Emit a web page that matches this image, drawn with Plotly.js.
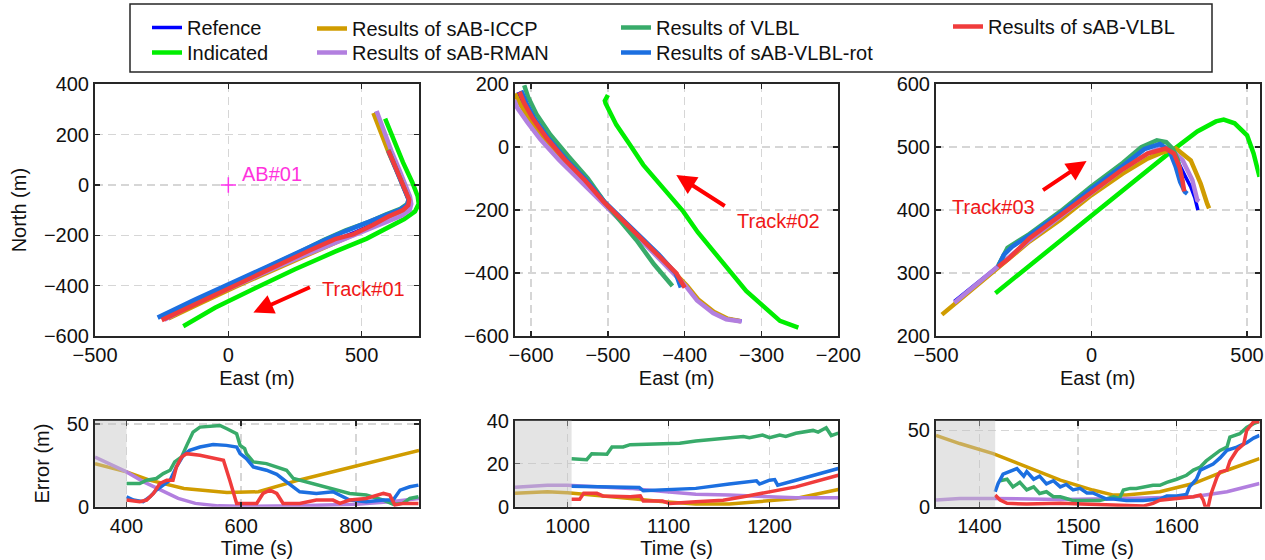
<!DOCTYPE html>
<html><head><meta charset="utf-8">
<script src="https://cdn.plot.ly/plotly-3.0.1.min.js"></script>
<style>html,body{margin:0;padding:0;background:#fff}#chart{width:1265px;height:560px}</style>
</head><body><div id="chart"></div>
<script>
// ---------- Track #01 (East, North in m) ----------
const t1RefE  = [553, 580, 610, 640, 665, 678, 680, 665, 630, 560, 480, 380, 270, 150, 20, -120, -250];
const t1RefN  = [290, 210, 130, 55, -10, -45, -70, -95, -115, -148, -185, -228, -280, -338, -400, -465, -530];
const t1IndE  = [588, 620, 655, 690, 710, 714, 700, 660, 600, 519, 400, 250, 100, -50, -169];
const t1IndN  = [264, 180, 90, 10, -45, -75, -105, -135, -170, -213, -265, -335, -410, -488, -561];
const t1IccpE = [544, 572, 603, 634, 660, 674, 678, 668, 635, 565, 485, 385, 275, 155, 25, -105, -225];
const t1IccpN = [286, 205, 125, 50, -15, -50, -75, -100, -120, -153, -190, -233, -285, -343, -405, -470, -530];
const t1RmanE = [556, 582, 612, 642, 667, 681, 686, 680, 650, 590, 490, 385, 272, 150, 18, -120, -240];
const t1RmanN = [294, 214, 134, 58, -8, -45, -75, -100, -122, -148, -192, -235, -285, -342, -403, -468, -535];
const t1VlblE = [600, 625, 650, 668, 676, 672, 645, 590, 520, 440, 360, 265, 150, 20, -120, -250];
const t1VlblN = [140, 75, 10, -30, -55, -75, -95, -118, -150, -180, -218, -268, -325, -390, -458, -522];
const t1RotE  = [600, 625, 650, 668, 676, 670, 640, 585, 515, 435, 355, 260, 145, 15, -125, -265];
const t1RotN  = [135, 70, 5, -35, -58, -80, -100, -122, -150, -185, -222, -270, -325, -388, -455, -527];
const t1RedE  = [600, 625, 650, 668, 678, 675, 655, 600, 540, 470, 400, 300, 180, 50, -100, -250];
const t1RedN  = [138, 72, 8, -32, -58, -80, -100, -125, -160, -195, -215, -262, -322, -385, -460, -537];

// ---------- Track #02 ----------
const t2RefE  = [-617, -612, -600, -582, -558, -532, -507, -484, -462, -438, -414, -398, -383, -362, -345, -326];
const t2RefN  = [175, 140, 92, 30, -40, -105, -172, -228, -280, -340, -400, -440, -485, -525, -545, -552];
const t2IndE  = [-500, -504, -503, -489, -472, -454, -428, -402, -383, -363, -320, -276, -252];
const t2IndN  = [166, 148, 139, 71, 10, -56, -130, -204, -270, -330, -457, -552, -573];
const t2IccpE = [-621, -615, -603, -585, -561, -534, -508, -485, -462, -438, -413, -397, -382, -361, -344, -327];
const t2IccpN = [171, 140, 92, 30, -40, -105, -172, -228, -280, -340, -400, -440, -485, -525, -545, -553];
const t2RmanE = [-622, -618, -605, -588, -564, -537, -510, -486, -463, -439, -415, -399, -384, -363, -346, -326];
const t2RmanN = [150, 125, 80, 25, -40, -105, -172, -228, -280, -340, -400, -440, -487, -527, -547, -554];
const t2VlblE = [-609, -604, -593, -575, -551, -526, -505, -483, -463, -440, -416];
const t2VlblN = [197, 160, 105, 40, -30, -100, -172, -235, -295, -372, -441];
const t2RotE  = [-613, -606, -596, -578, -554, -528, -505, -482, -459, -434, -412, -405];
const t2RotN  = [180, 140, 92, 30, -40, -105, -172, -228, -280, -340, -400, -446];
const t2RedE  = [-615, -609, -598, -580, -556, -530, -506, -483, -460, -435, -411, -400];
const t2RedN  = [176, 140, 92, 30, -40, -105, -172, -228, -280, -340, -400, -446];

// ---------- Track #03 ----------
const t3RefE  = [-441, -370, -303, -200, -100, 0, 100, 180, 230, 250, 280, 300, 319, 332, 342];
const t3RefN  = [255, 283, 310, 352, 390, 428, 465, 490, 500, 497, 475, 455, 437, 420, 400];
const t3IndE  = [-309, -150, 0, 150, 255, 340, 400, 425, 460, 500, 521, 540];
const t3IndN  = [268, 332, 392, 452, 493, 525, 541, 544, 538, 519, 490, 453];
const t3IccpE = [-481, -400, -303, -200, -100, 0, 100, 180, 230, 271, 319, 351, 372, 378];
const t3IccpN = [234, 268, 307, 350, 385, 424, 458, 482, 492, 498, 479, 442, 410, 403];
const t3RmanE = [-441, -370, -303, -200, -100, 0, 100, 180, 230, 260, 293, 324, 340, 346];
const t3RmanN = [253, 282, 310, 352, 390, 428, 465, 490, 500, 495, 479, 448, 416, 414];
const t3VlblE = [-300, -285, -270, -200, -100, 0, 100, 160, 210, 240, 262, 277, 287, 293];
const t3VlblN = [312, 328, 340, 362, 398, 438, 475, 500, 511, 508, 497, 480, 460, 443];
const t3RotE  = [-300, -282, -255, -200, -100, 0, 100, 170, 220, 250, 270, 285, 300, 308];
const t3RotN  = [310, 329, 342, 360, 395, 434, 470, 497, 505, 495, 470, 445, 429, 426];
const t3RedE  = [-300, -266, -200, -100, 0, 100, 180, 239, 265, 283, 293, 298];
const t3RedN  = [310, 323, 355, 392, 430, 465, 490, 498, 490, 468, 445, 430];

// ---------- Error, Track #01 (time s, error m) ----------
const e1IccpT = [345, 400, 440, 500, 575, 630, 700, 760, 820, 910];
const e1IccpV = [26, 21, 16, 11, 8.5, 9, 16, 21, 26, 34];
const e1RmanT = [345, 370, 400, 430, 460, 490, 520, 560, 600, 700, 800, 860, 910];
const e1RmanV = [30, 26, 21, 15, 10, 5, 2, 0.5, 0.3, 0.5, 1.5, 3, 5];
const e1VlblT = [400, 423, 435, 452, 464, 476, 484, 496, 505, 516, 528, 551, 563, 575, 586, 592, 598, 606, 609, 621, 644, 661, 679, 691, 714, 737, 760, 789, 818, 848, 865, 882, 894, 909];
const e1VlblV = [14, 14, 16, 17, 20, 22, 27, 30, 37, 45, 48, 49, 49, 47, 45, 44, 37, 35, 32, 27, 26, 24, 22, 17, 15, 13, 11, 8, 7, 4, 1.5, 2, 5, 6];
const e1RotT  = [400, 412, 429, 441, 452, 464, 476, 487, 499, 510, 528, 551, 574, 592, 598, 609, 621, 644, 662, 679, 691, 702, 731, 760, 789, 818, 848, 865, 877, 894, 909];
const e1RotV  = [6, 4, 3, 6, 10, 13, 16, 24, 31, 34, 36, 37.5, 37, 36, 32, 29, 24, 22, 19.5, 15, 12, 9, 8, 9, 4, 3, 4, 4, 10, 12, 13];
const e1RedT  = [400, 423, 435, 447, 458, 470, 481, 487, 496, 505, 528, 557, 569, 580, 586, 592, 609, 627, 638, 650, 662, 673, 702, 731, 760, 772, 789, 818, 848, 859, 868, 882, 909];
const e1RedV  = [4, 3, 4, 8, 14, 16, 16, 24, 30, 32, 31, 29, 28, 16, 8, 2, 2, 2, 8, 10, 8, 2, 2, 4, 4, 2, 4, 5, 8, 7, 1, 2, 2];

// ---------- Error, Track #02 ----------
const e2IccpT = [948, 980, 1000, 1029, 1062, 1095, 1127, 1160, 1193, 1226, 1268];
const e2IccpV = [6.2, 6.9, 6.5, 5.4, 3.8, 2.3, 1.2, 1.2, 2.3, 3.8, 8];
const e2RmanT = [948, 980, 1000, 1029, 1062, 1095, 1127, 1160, 1193, 1226, 1268];
const e2RmanV = [9, 10, 10, 9.2, 8.5, 7, 5.8, 5.4, 4.6, 4.1, 4.1];
const e2VlblT = [1004, 1019, 1024, 1039, 1044, 1055, 1062, 1094, 1111, 1127, 1144, 1160, 1174, 1180, 1193, 1200, 1210, 1216, 1226, 1243, 1248, 1256, 1261, 1268];
const e2VlblV = [22.3, 21.8, 24.6, 24.3, 27.7, 27.7, 28.8, 29.2, 29.5, 30.5, 31.4, 32, 32.6, 32, 33.2, 32, 33.2, 32.6, 34.1, 35.4, 34.6, 36.6, 33, 34.1];
const e2RotT  = [1004, 1029, 1071, 1075, 1094, 1127, 1160, 1187, 1190, 1200, 1205, 1208, 1226, 1268];
const e2RotV  = [9.5, 9.2, 8.9, 7.4, 7.7, 8.5, 10.5, 12, 10.5, 12.3, 12.6, 10, 12.3, 17.7];
const e2RedT  = [1004, 1012, 1016, 1029, 1035, 1062, 1072, 1075, 1094, 1101, 1127, 1154, 1174, 1193, 1226, 1268];
const e2RedV  = [3.4, 3.4, 6.2, 6.2, 5, 4.6, 5, 2.6, 2.6, 1.5, 2.3, 3, 4.6, 6.2, 9.2, 14.6];

// ---------- Error, Track #03 ----------
const e3IccpT = [1356, 1380, 1414, 1448, 1482, 1515, 1536, 1549, 1583, 1617, 1651, 1684];
const e3IccpV = [46.7, 41.4, 34.8, 26, 17.4, 10.9, 7.6, 7.6, 9.8, 15.2, 23.9, 31.5];
const e3RmanT = [1356, 1380, 1414, 1482, 1549, 1617, 1651, 1684];
const e3RmanV = [4.4, 5.4, 5.4, 4.8, 5.4, 6.5, 9.8, 15.2];
const e3VlblT = [1421, 1428, 1434, 1441, 1448, 1455, 1461, 1468, 1475, 1482, 1488, 1495, 1509, 1522, 1536, 1542, 1546, 1553, 1559, 1566, 1576, 1583, 1590, 1600, 1610, 1617, 1624, 1630, 1637, 1644, 1651, 1654, 1664, 1671, 1678, 1684];
const e3VlblV = [17, 18, 13, 16, 11, 13, 8.7, 9.8, 6.5, 6.5, 5.4, 4, 4, 4, 6.5, 5.4, 11, 12, 12, 13, 14, 14, 16, 18, 20.6, 24, 26, 30, 33.7, 36.9, 39, 45.6, 47.8, 52, 54.4, 56];
const e3RotT  = [1416, 1419, 1424, 1438, 1445, 1448, 1455, 1461, 1468, 1475, 1482, 1488, 1495, 1502, 1509, 1515, 1522, 1529, 1536, 1549, 1566, 1583, 1590, 1600, 1610, 1613, 1620, 1624, 1637, 1644, 1651, 1661, 1671, 1678, 1684];
const e3RotV  = [9.8, 15.2, 21.3, 25, 20, 23, 18, 20, 15, 17, 13, 14.6, 11, 12, 9, 9, 7, 5, 5, 4, 4, 5, 7, 7, 8, 13, 18, 24, 28, 32, 37, 39, 42, 45, 46.7];
const e3RedT  = [1416, 1421, 1428, 1448, 1482, 1515, 1549, 1566, 1576, 1583, 1600, 1617, 1624, 1627, 1629, 1632, 1635, 1641, 1644, 1651, 1654, 1661, 1668, 1671, 1678, 1684];
const e3RedV  = [7.6, 4.4, 2.2, 1.7, 2.2, 1.7, 1, 0.4, 2.2, 4.3, 5.4, 6.5, 7.6, 4.3, 0, 0, 8.7, 19.6, 22.8, 24, 30, 37, 41, 50, 55.6, 55.6];

// ---------- Labels, styles ----------
const methodNames = ['Refence', 'Indicated', 'Results of sAB-ICCP', 'Results of sAB-RMAN', 'Results of VLBL', 'Results of sAB-VLBL-rot', 'Results of sAB-VLBL'];
const methodColors = ['#0000ff', '#00ee00', '#d09c00', '#b27fdf', '#38ab6a', '#1c6fe0', '#f03c3c'];
const trackE = [
  [t1RefE, t1IndE, t1IccpE, t1RmanE, t1VlblE, t1RotE, t1RedE],
  [t2RefE, t2IndE, t2IccpE, t2RmanE, t2VlblE, t2RotE, t2RedE],
  [t3RefE, t3IndE, t3IccpE, t3RmanE, t3VlblE, t3RotE, t3RedE]];
const trackN = [
  [t1RefN, t1IndN, t1IccpN, t1RmanN, t1VlblN, t1RotN, t1RedN],
  [t2RefN, t2IndN, t2IccpN, t2RmanN, t2VlblN, t2RotN, t2RedN],
  [t3RefN, t3IndN, t3IccpN, t3RmanN, t3VlblN, t3RotN, t3RedN]];
// error series: method index 2..6
const errT = [
  [e1IccpT, e1RmanT, e1VlblT, e1RotT, e1RedT],
  [e2IccpT, e2RmanT, e2VlblT, e2RotT, e2RedT],
  [e3IccpT, e3RmanT, e3VlblT, e3RotT, e3RedT]];
const errV = [
  [e1IccpV, e1RmanV, e1VlblV, e1RotV, e1RedV],
  [e2IccpV, e2RmanV, e2VlblV, e2RotV, e2RedV],
  [e3IccpV, e3RmanV, e3VlblV, e3RotV, e3RedV]];
const shadeEnd = [400, 1004, 1416];

const topXRange = [[-500, 715], [-621, -200], [-500, 540]];
const topYRange = [[-600, 400], [-600, 200], [200, 600]];
const topXDtick = [500, 100, 500];
const topYDtick = [200, 200, 100];
const botXRange = [[345, 910], [948, 1268], [1356, 1684]];
const botYRange = [[0, 52], [0, 40], [0, 56.5]];
const botXDtick = [200, 100, 100];
const botYDtick = [50, 20, 50];

const abE = [0], abN = [0];
const trackLabels = ['Track#01', 'Track#02', 'Track#03'];
const trackLabelPos = [[506, -412], [-278, -235], [-314, 405]];
const arrowHead = [[94, -507], [-411, -88], [-16, 478]];
const arrowTail = [[58, -26], [50, 32], [-45, 30]];

// ---------- Build ----------
const W = 1265, H = 560;
const FONT = 'Liberation Sans, Arial, Helvetica, sans-serif';
const xDom = [[95 / W, 419 / W], [515 / W, 838.3 / W], [936 / W, 1259.5 / W]];
const topDom = [1 - 336 / H, 1 - 84.3 / H];
const botDom = [1 - 506.7 / H, 1 - 420.5 / H];

// one legend box per entry (text-left x, text-centre y, in px)
const legendPos = [[187, 28], [187, 53], [352, 29], [352, 53], [656, 28], [656, 53], [988, 27]];

const data = [];
const drawOrder = [1, 0, 2, 3, 4, 5, 6];
for (let k = 0; k < 3; k++) {
  drawOrder.forEach(m => {
    data.push({
      type: 'scatter', mode: 'lines',
      x: trackE[k][m], y: trackN[k][m],
      xaxis: 'x' + (k === 0 ? '' : k + 1), yaxis: 'y' + (k === 0 ? '' : k + 1),
      name: methodNames[m], legendgroup: methodNames[m],
      legend: m === 0 ? 'legend' : 'legend' + (m + 1),
      showlegend: k === 0,
      line: {color: methodColors[m], width: m === 0 ? 3.5 : 4.5},
      hoverinfo: 'skip'
    });
  });
}
data.push({type: 'scatter', mode: 'markers', x: abE, y: abN, xaxis: 'x', yaxis: 'y', showlegend: false,
  marker: {symbol: 'cross-thin', size: 11, line: {color: '#ff33ee', width: 1.5}}, hoverinfo: 'skip'});
for (let k = 0; k < 3; k++) {
  for (let j = 0; j < 5; j++) {
    const m = j + 2;
    data.push({
      type: 'scatter', mode: 'lines',
      x: errT[k][j], y: errV[k][j],
      xaxis: 'x' + (k + 4), yaxis: 'y' + (k + 4),
      name: methodNames[m], legendgroup: methodNames[m], legend: 'legend' + (m + 1),
      showlegend: false, line: {color: methodColors[m], width: 3.5}, hoverinfo: 'skip'
    });
  }
}

function axis(range, dtick, domain, anchor, title, standoff) {
  const a = {
    range: range, dtick: dtick, tick0: 0, domain: domain, anchor: anchor,
    showline: true, mirror: 'ticks', linecolor: '#262626', linewidth: 2,
    ticks: 'inside', ticklen: 5, tickwidth: 1.5, tickcolor: '#262626',
    showgrid: true, gridcolor: '#d6d6d6', gridwidth: 1.5, griddash: '8px,5px',
    zeroline: false, automargin: false,
    tickfont: {family: FONT, size: 20, color: '#111'}
  };
  if (title) a.title = {text: title, font: {family: FONT, size: 20, color: '#111'}, standoff: standoff};
  return a;
}

const layout = {
  width: W, height: H,
  margin: {l: 0, r: 0, t: 0, b: 0},
  paper_bgcolor: '#fff', plot_bgcolor: '#fff',
  font: {family: FONT, size: 20, color: '#111'},
  showlegend: true,
  shapes: [],
  annotations: []
};
for (let k = 0; k < 3; k++) {
  const s = k === 0 ? '' : String(k + 1);
  layout['xaxis' + s] = axis(topXRange[k], topXDtick[k], xDom[k], 'y' + s, 'East (m)', 6);
  layout['yaxis' + s] = axis(topYRange[k], topYDtick[k], topDom, 'x' + s, k === 0 ? 'North (m)' : null, 12);
  layout['xaxis' + (k + 4)] = axis(botXRange[k], botXDtick[k], xDom[k], 'y' + (k + 4), 'Time (s)', 2);
  layout['yaxis' + (k + 4)] = axis(botYRange[k], botYDtick[k], botDom, 'x' + (k + 4), k === 0 ? 'Error (m)' : null, 12);
  layout.shapes.push({type: 'rect', xref: 'x' + (k + 4), yref: 'y' + (k + 4) + ' domain',
    x0: botXRange[k][0], x1: shadeEnd[k], y0: 0, y1: 1, layer: 'above',
    fillcolor: 'rgba(195,195,195,0.45)', line: {width: 0}});
  layout.annotations.push({xref: 'x' + s, yref: 'y' + s, x: arrowHead[k][0], y: arrowHead[k][1],
    ax: arrowTail[k][0], ay: arrowTail[k][1], text: '', showarrow: true,
    arrowhead: 2, arrowsize: 1, arrowwidth: 4, arrowcolor: '#ff0000'});
  layout.annotations.push({xref: 'x' + s, yref: 'y' + s, x: trackLabelPos[k][0], y: trackLabelPos[k][1],
    text: trackLabels[k], showarrow: false, font: {family: FONT, size: 20, color: '#f01818'}});
}
layout.annotations.push({xref: 'x', yref: 'y', x: 163, y: 45, text: 'AB#01', showarrow: false,
  font: {family: FONT, size: 20, color: '#ff33dd'}});
// legend frame
layout.shapes.push({type: 'rect', xref: 'paper', yref: 'paper', x0: 130 / W, x1: 1212 / W, y0: 1 - 72 / H, y1: 1 - 4 / H,
  line: {color: '#262626', width: 1.5}, fillcolor: 'rgba(0,0,0,0)'});
legendPos.forEach((p, m) => {
  const L = m === 0 ? 'legend' : 'legend' + (m + 1);
  layout[L] = {x: (p[0] - 40) / W, y: 1 - (p[1] - 20) / H, xanchor: 'left', yanchor: 'top',
    bgcolor: 'rgba(0,0,0,0)', borderwidth: 0, tracegroupgap: 0,
    font: {family: FONT, size: 20, color: '#111'}};
});

Plotly.newPlot('chart', data, layout, {staticPlot: true, displayModeBar: false});
</script></body></html>
